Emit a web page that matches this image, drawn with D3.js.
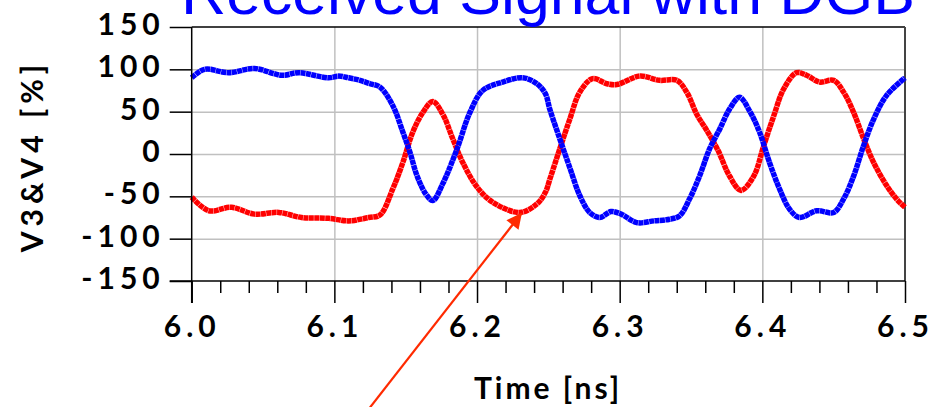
<!DOCTYPE html>
<html>
<head>
<meta charset="utf-8">
<script src="https://cdn.jsdelivr.net/npm/d3@7"></script>
<style>
	body { margin: 0; background: #fff; }
	svg { display: block; }
	.tick-label { font-family: Lato, "Open Sans", sans-serif; font-weight: 700; font-size: 30px; letter-spacing: 5px; fill: #000; }
</style>
</head>
<body>
<svg id="chart" width="930" height="407"></svg>
<script>
// values
const xTicks = [6.0, 6.1, 6.2, 6.3, 6.4, 6.5]
const xMinor = [6.02, 6.04, 6.06, 6.08, 6.12, 6.14, 6.16, 6.18, 6.22, 6.24, 6.26, 6.28, 6.32, 6.34, 6.36, 6.38, 6.42, 6.44, 6.46, 6.48]
const yTicks = [-150, -100, -50, 0, 50, 100, 150]

const blueT = [6.000, 6.009, 6.026, 6.044, 6.063, 6.075, 6.096, 6.103, 6.110, 6.118, 6.125, 6.132, 6.141, 6.148, 6.153, 6.158, 6.164, 6.169, 6.176, 6.186, 6.195, 6.204, 6.218, 6.232, 6.242, 6.248, 6.251, 6.258, 6.265, 6.272, 6.279, 6.286, 6.294, 6.301, 6.312, 6.324, 6.335, 6.342, 6.349, 6.356, 6.363, 6.370, 6.377, 6.384, 6.391, 6.398, 6.405, 6.412, 6.419, 6.426, 6.438, 6.450, 6.457, 6.464, 6.471, 6.478, 6.487, 6.500]
const blueV = [90, 100, 96, 101, 93, 96, 90, 92, 90, 87, 83, 79, 57, 26, 2, -26, -47, -55, -35, 6, 49, 75, 85, 90, 83, 71, 53, 18, -16, -49, -69, -75, -68, -71, -81, -79, -77, -73, -53, -26, 6, 29, 53, 67, 51, 26, -10, -41, -65, -75, -67, -69, -53, -26, 10, 41, 69, 90]

const redT = [6.000, 6.012, 6.028, 6.044, 6.061, 6.077, 6.096, 6.110, 6.124, 6.132, 6.141, 6.148, 6.155, 6.162, 6.169, 6.176, 6.183, 6.190, 6.200, 6.211, 6.230, 6.242, 6.248, 6.251, 6.258, 6.265, 6.272, 6.281, 6.291, 6.298, 6.314, 6.328, 6.340, 6.347, 6.354, 6.361, 6.369, 6.377, 6.385, 6.394, 6.401, 6.408, 6.415, 6.424, 6.431, 6.440, 6.450, 6.457, 6.464, 6.471, 6.478, 6.487, 6.494, 6.500]
const redV = [-51, -67, -63, -71, -69, -75, -76, -79, -75, -72, -41, -10, 26, 49, 62, 47, 18, -10, -39, -57, -69, -59, -45, -30, 6, 41, 73, 89, 83, 82, 92, 87, 87, 73, 47, 28, 4, -26, -43, -26, 10, 45, 77, 96, 93, 85, 87, 73, 49, 18, -10, -37, -53, -63]

const svg = d3.select("#chart")
const plotLeft = 191.7, plotRight = 905, plotTop = 27, plotBottom = 281

const x = d3.scaleLinear().domain([6.0, 6.5]).range([plotLeft, plotRight])
const y = d3.scaleLinear().domain([-150, 150]).range([plotBottom, plotTop])

// grid
svg.append("g")
	.attr("transform", `translate(0,${plotBottom})`)
	.call(d3.axisBottom(x).tickValues(xTicks.slice(1, -1)).tickSize(-(plotBottom - plotTop)).tickFormat(""))
	.call(g => g.select(".domain").remove())
	.selectAll("line").attr("stroke", "#c0c0c0").attr("stroke-width", 1.5)
svg.append("g")
	.attr("transform", `translate(${plotLeft},0)`)
	.call(d3.axisLeft(y).tickValues(yTicks.slice(1, -1)).tickSize(-(plotRight - plotLeft)).tickFormat(""))
	.call(g => g.select(".domain").remove())
	.selectAll("line").attr("stroke", "#c0c0c0").attr("stroke-width", 1.5)

// frame
svg.append("line").attr("x1", plotLeft).attr("x2", plotRight).attr("y1", plotTop).attr("y2", plotTop)
	.attr("stroke", "#000").attr("stroke-width", 1.5)
svg.append("line").attr("x1", plotRight).attr("x2", plotRight).attr("y1", plotTop).attr("y2", plotBottom)
	.attr("stroke", "#444").attr("stroke-width", 2)

// series
const line = d3.line().x(d => x(d[0])).y(d => y(d[1])).curve(d3.curveCatmullRom.alpha(0.5))
svg.append("path")
	.datum(redT.map((t, i) => [t, redV[i]]))
	.attr("d", line)
	.attr("fill", "none").attr("stroke", "#ff0000").attr("stroke-width", 5.5)
	.attr("stroke-dasharray", "5 0.4")
svg.append("path")
	.datum(blueT.map((t, i) => [t, blueV[i]]))
	.attr("d", line)
	.attr("fill", "none").attr("stroke", "#0000ff").attr("stroke-width", 5.5)
	.attr("stroke-dasharray", "5 0.4")

// x axis
const xAxis = svg.append("g")
	.attr("transform", `translate(0,${plotBottom})`)
	.call(d3.axisBottom(x).tickValues(xTicks).tickSize(22).tickPadding(12).tickFormat(d3.format(".1f")))
xAxis.select(".domain").attr("d", `M${plotLeft - 22},0H${plotRight}`).attr("stroke-width", 1.5)
xAxis.selectAll("line").attr("stroke-width", 1.5)
xAxis.selectAll("text").attr("class", "tick-label").attr("dy", "0.72em")
svg.append("g")
	.attr("transform", `translate(0,${plotBottom})`)
	.call(d3.axisBottom(x).tickValues(xMinor).tickSize(12).tickFormat(""))
	.call(g => g.select(".domain").remove())
	.selectAll("line").attr("stroke-width", 1.5)

// y axis
const yAxis = svg.append("g")
	.attr("transform", `translate(${plotLeft},0)`)
	.call(d3.axisLeft(y).tickValues(yTicks).tickSize(22).tickPadding(10).tickFormat(d => String(d)))
yAxis.select(".domain").attr("d", `M0,${plotTop}V${plotBottom + 22}`).attr("stroke-width", 1.5)
yAxis.selectAll("line").attr("stroke-width", 1.5)
yAxis.selectAll("text").attr("class", "tick-label").attr("dy", "0.25em").attr("dx", 5)

// axis titles
svg.append("text")
	.attr("class", "tick-label")
	.attr("transform", "translate(43,156) rotate(-90)")
	.attr("text-anchor", "middle")
	.style("font-size", "30px")
	.text("V3&V4 [%]")
svg.append("text")
	.attr("class", "tick-label")
	.attr("x", 548).attr("y", 399)
	.attr("text-anchor", "middle")
	.style("font-size", "30px").style("letter-spacing", "3px")
	.text("Time [ns]")

// title
svg.append("text")
	.attr("x", 181).attr("y", 14)
	.attr("textLength", 734).attr("lengthAdjust", "spacingAndGlyphs")
	.style("font-family", "'Liberation Sans', Arial, sans-serif")
	.style("font-size", "62px")
	.attr("fill", "#0000ff")
	.text("Received Signal with DGB")

// annotation arrow
svg.append("defs").append("marker")
	.attr("id", "head").attr("viewBox", "0 0 10 10")
	.attr("refX", 9).attr("refY", 5)
	.attr("markerWidth", 9).attr("markerHeight", 7)
	.attr("markerUnits", "strokeWidth").attr("orient", "auto")
	.append("path").attr("d", "M0,0L10,5L0,10Z").attr("fill", "#ff2a00")
svg.append("line")
	.attr("x1", 368).attr("y1", 410).attr("x2", 521).attr("y2", 214)
	.attr("stroke", "#ff2a00").attr("stroke-width", 2.2)
	.attr("marker-end", "url(#head)")
</script>
</body>
</html>
